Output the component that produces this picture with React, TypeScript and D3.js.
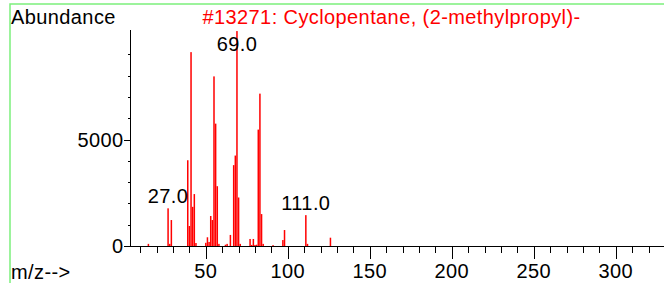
import React, { useEffect, useRef } from 'react'
import * as d3 from 'd3'

const title = '#13271: Cyclopentane, (2-methylpropyl)-'

// m/z values and their abundances
const mz = [15, 27, 28, 29, 39, 40, 41, 42, 43, 44, 50, 51, 52, 53, 54, 55, 56, 57, 58,
    62, 63, 65, 67, 68, 69, 70, 71, 77, 78, 79, 80, 81, 82, 83, 84, 85, 91, 97, 98, 111, 112, 126]
const abundance = [100, 1770, 100, 1220, 4030, 940, 9110, 1840, 2440, 140, 150, 410, 190, 1410, 1220, 7970, 5750, 2810, 100,
    60, 100, 520, 3800, 4250, 10100, 2280, 100, 330, 50, 330, 50, 60, 5470, 7160, 1500, 100, 40, 280, 750, 1450, 100, 390]

const labelled = [27, 69, 111]
const xMajor = [50, 100, 150, 200, 250, 300]
const xMinor = d3.range(10, 330, 10)
const yMajor = [0, 5000]
const yMinor = d3.range(1000, 10000, 1000)

const font = '"Liberation Sans", Arial, sans-serif'

export default function App() {
    const el = useRef<SVGSVGElement>(null)

    useEffect(() => {
        const svg = d3.select(el.current)
        svg.selectAll('*').remove()

        const x = d3.scaleLinear().domain([0, 100]).range([123.8, 287.8])
        const y = d3.scaleLinear().domain([0, 10150]).range([246, 30])

        // green frame
        svg.append('path')
            .attr('d', 'M10,290 V4 H670')
            .attr('fill', 'none')
            .attr('stroke', '#7cf07c')
            .attr('stroke-width', 1.5)

        // peaks
        svg.append('g')
            .selectAll('rect')
            .data(mz)
            .enter()
            .append('rect')
            .attr('x', (d) => x(d) - 0.75)
            .attr('width', 1.5)
            .attr('y', (d, i) => y(abundance[i]))
            .attr('height', (d, i) => y(0) - y(abundance[i]))
            .attr('fill', '#ff0000')

        // axes
        svg.append('line')
            .attr('x1', 130).attr('x2', 664)
            .attr('y1', y(0) + 0.5).attr('y2', y(0) + 0.5)
            .attr('stroke', '#000')
        svg.append('line')
            .attr('x1', 130.5).attr('x2', 130.5)
            .attr('y1', y(0) + 0.5).attr('y2', 30)
            .attr('stroke', '#000')

        svg.append('g')
            .selectAll('line')
            .data(xMinor)
            .enter()
            .append('line')
            .attr('x1', (d) => Math.round(x(d)) + 0.5)
            .attr('x2', (d) => Math.round(x(d)) + 0.5)
            .attr('y1', y(0))
            .attr('y2', (d) => y(0) + (d % 50 === 0 ? 13 : 7))
            .attr('stroke', '#000')

        svg.append('g')
            .selectAll('text')
            .data(xMajor)
            .enter()
            .append('text')
            .attr('x', (d) => x(d))
            .attr('y', 278)
            .attr('text-anchor', 'middle')
            .text((d) => d)

        svg.append('g')
            .selectAll('line')
            .data(yMinor)
            .enter()
            .append('line')
            .attr('x1', (d) => d === 5000 ? 124 : 128)
            .attr('x2', 131)
            .attr('y1', (d) => Math.round(y(d)) + 0.5)
            .attr('y2', (d) => Math.round(y(d)) + 0.5)
            .attr('stroke', '#000')
        svg.append('line')
            .attr('x1', 124).attr('x2', 131)
            .attr('y1', y(0) + 0.5).attr('y2', y(0) + 0.5)
            .attr('stroke', '#000')

        svg.append('g')
            .selectAll('text')
            .data(yMajor)
            .enter()
            .append('text')
            .attr('x', 123.5)
            .attr('y', (d) => y(d) + 7)
            .attr('text-anchor', 'end')
            .text((d) => d)

        // peak labels
        svg.append('g')
            .selectAll('text')
            .data(labelled)
            .enter()
            .append('text')
            .attr('x', (d) => x(d))
            .attr('y', (d) => d === 69 ? y(abundance[mz.indexOf(d)]) + 20 : y(abundance[mz.indexOf(d)]) - 5)
            .attr('text-anchor', 'middle')
            .text((d) => d.toFixed(1))

        svg.append('text').attr('x', 11).attr('y', 23.5).text('Abundance')
        svg.append('text').attr('x', 202.5).attr('y', 23.5).attr('fill', '#ff0000').text(title)
        svg.append('text').attr('x', 11).attr('y', 278.5).text('m/z-->')
    }, [])

    return (
        <svg ref={el} width={664} height={283}
            style={{ position: 'absolute', left: 0, top: 0, fontFamily: font, fontSize: 20, letterSpacing: 0.4 }} />
    )
}
